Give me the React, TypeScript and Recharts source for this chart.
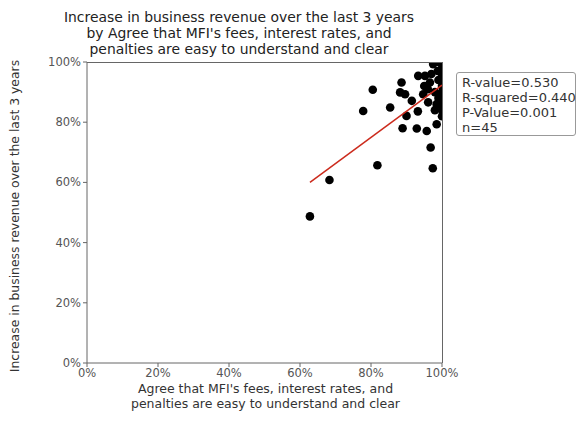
import React from 'react';
import { ScatterChart, Scatter, XAxis, YAxis, ReferenceLine } from 'recharts';

// agreement share (%) per respondent group
const agreeValues = [
  62.8, 68.3, 81.8, 77.8, 80.5, 85.4, 88.6, 88.2, 89.6, 91.5,
  90.0, 88.9, 92.9, 93.2, 95.7, 96.8, 97.4, 98.5, 93.3, 95.2,
  96.6, 97.5, 100, 94.7, 96.1, 98.5, 100, 100, 100, 98.0,
  100, 98.8, 100, 99.0, 96.0, 97.0, 100, 100, 99.0, 97.8,
  95.0, 100, 98.0, 100, 99.0,
];
// revenue increase share (%)
const revenueValues = [
  48.7, 60.8, 65.7, 83.7, 90.8, 84.9, 93.2, 89.9, 89.3, 87.1,
  82.1, 78.0, 77.9, 83.6, 77.1, 71.6, 64.7, 79.3, 95.4, 95.4,
  93.2, 99.3, 100, 89.3, 86.6, 86.0, 96.0, 92.0, 88.0, 90.0,
  84.0, 97.0, 98.0, 94.0, 91.0, 96.0, 90.0, 82.0, 88.0, 100,
  92.0, 86.0, 84.0, 94.0, 100,
];
const trendX = [62.8, 100];
const trendY = [60.0, 92.3];
const ticks = [0, 20, 40, 60, 80, 100];
const titleLines = [
  'Increase in business revenue over the last 3 years',
  "by Agree that MFI's fees, interest rates, and",
  'penalties are easy to understand and clear',
];
const xLabelLines = [
  "Agree that MFI's fees, interest rates, and",
  'penalties are easy to understand and clear',
];
const yLabel = 'Increase in business revenue over the last 3 years';
const statLines = ['R-value=0.530', 'R-squared=0.440', 'P-Value=0.001', 'n=45'];

const points = agreeValues.map((x, i) => ({ x, y: revenueValues[i] }));
const trend = trendX.map((x, i) => ({ x, y: trendY[i] }));

const font = '"DejaVu Sans", sans-serif';
const axisColor = '#666';

const Dot = (p: any) => <circle cx={p.cx} cy={p.cy} r={4.3} fill="#000" />;

export default function App() {
  return (
    <div style={{ position: 'absolute', left: 0, top: 0, width: 579, height: 428, background: '#fff', fontFamily: font }}>
      <ScatterChart width={579} height={428} margin={{ top: 62, right: 137, left: 47, bottom: 35 }}>
        <XAxis
          type="number"
          dataKey="x"
          domain={[0, 100]}
          ticks={ticks}
          tickFormatter={(v) => `${v}%`}
          height={30}
          stroke={axisColor}
          tick={{ fontSize: 11.5, fill: '#555', fontFamily: font }}
          tickSize={4}
        />
        <YAxis
          type="number"
          dataKey="y"
          domain={[0, 100]}
          ticks={ticks}
          tickFormatter={(v) => `${v}%`}
          width={40}
          stroke={axisColor}
          tick={{ fontSize: 11.5, fill: '#555', fontFamily: font }}
          tickSize={4}
        />
        <Scatter data={points} shape={Dot} isAnimationActive={false} />
        <Scatter data={trend} line={{ stroke: '#cc2b1d', strokeWidth: 1.5 }} shape={() => null} isAnimationActive={false} />
      </ScatterChart>

      {/* clip marks to the axes box */}
      <div style={{ position: 'absolute', left: 443, top: 50, width: 10, height: 312, background: '#fff' }} />
      <div style={{ position: 'absolute', left: 88, top: 55, width: 362, height: 6.5, background: '#fff' }} />
      {/* top and right spines */}
      <div style={{ position: 'absolute', left: 87, top: 62, width: 356, height: 0, borderTop: `1px solid ${axisColor}` }} />
      <div style={{ position: 'absolute', left: 442, top: 62, width: 0, height: 301, borderLeft: `1px solid ${axisColor}` }} />

      <div style={{ position: 'absolute', left: 0, width: 478, top: 9, textAlign: 'center', fontSize: 13.9, lineHeight: '16px', color: '#222' }}>
        {titleLines.map((t) => <div key={t}>{t}</div>)}
      </div>

      <div style={{ position: 'absolute', left: 0, width: 531, top: 381, textAlign: 'center', fontSize: 12.5, lineHeight: '15px', color: '#333' }}>
        {xLabelLines.map((t) => <div key={t}>{t}</div>)}
      </div>

      <div style={{ position: 'absolute', left: 14, top: 216, width: 0, height: 0 }}>
        <div style={{ position: 'absolute', transform: 'translate(-50%, -50%) rotate(-90deg)', whiteSpace: 'nowrap', fontSize: 12.4, color: '#333' }}>
          {yLabel}
        </div>
      </div>

      <div style={{ position: 'absolute', left: 456, top: 72, width: 120, height: 64, padding: '2px 0 0 5px', border: '1px solid #999', borderRadius: 3, fontSize: 13, lineHeight: '15px', color: '#333', boxSizing: 'border-box', whiteSpace: 'nowrap' }}>
        {statLines.map((t) => <div key={t}>{t}</div>)}
      </div>
    </div>
  );
}
